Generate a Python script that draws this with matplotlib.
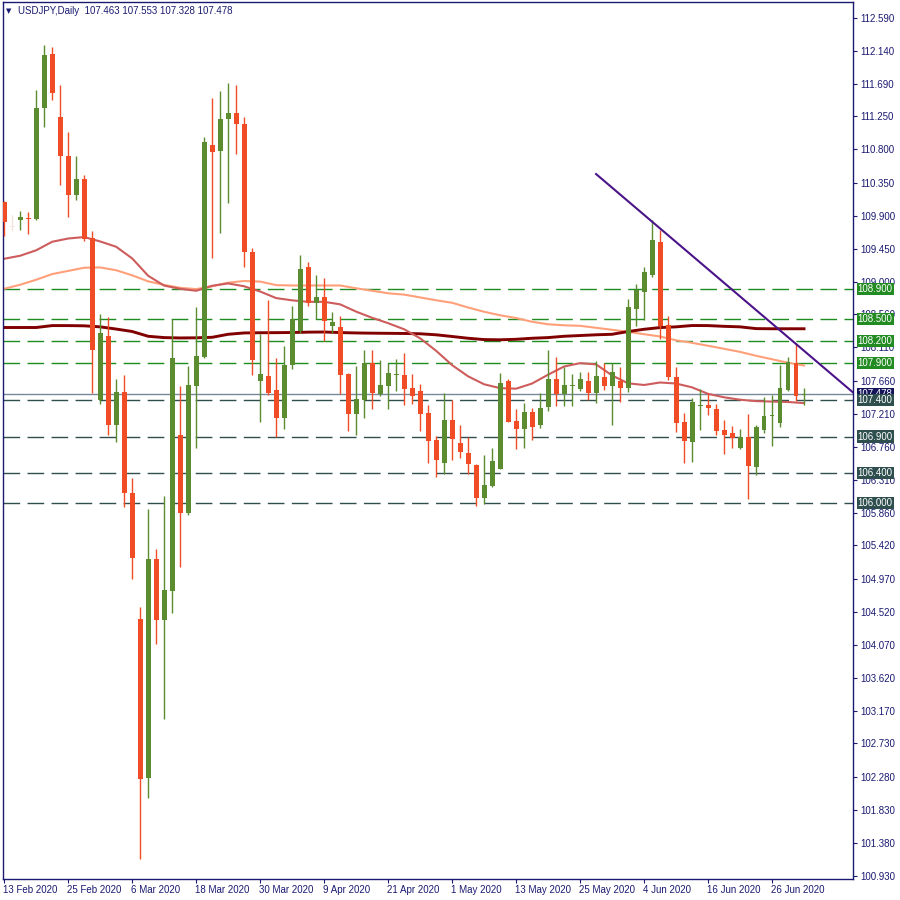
import matplotlib
matplotlib.use('Agg')
import matplotlib.pyplot as plt
import matplotlib.transforms as mtrans

plt.rcParams['font.family'] = ['Liberation Sans', 'DejaVu Sans']

# daily candles, USDJPY, 13 Feb 2020 .. 2 Jul 2020 (one per trading day)
opens = [110.09, 109.75, 109.835, 109.87, 109.858, 111.358, 112.101, 111.245, 110.705, 110.185,
         110.402, 109.596, 107.39, 108.268, 107.059, 107.507, 106.139, 104.423, 102.266, 105.238,
         104.409, 104.808, 106.923, 105.859, 107.589, 107.987, 110.864, 110.773, 111.213, 111.30,
         111.15, 109.406, 107.648, 107.725, 107.535, 107.145, 107.878, 108.327, 109.206, 108.713,
         108.80, 108.395, 108.39, 107.752, 107.21, 107.40, 107.897, 107.476, 107.589, 107.74,
         107.738, 107.562, 107.521, 107.22, 106.85, 106.547, 107.127, 106.81, 106.675, 106.515,
         106.071, 106.234, 106.465, 107.657, 107.116, 107.009, 107.237, 107.05, 107.30, 107.684,
         107.48, 107.59, 107.552, 107.661, 107.49, 107.707, 107.58, 107.661, 107.566, 108.635,
         108.87, 109.097, 109.542, 108.418, 107.707, 107.096, 106.832, 107.31, 107.33, 107.272,
         106.991, 106.946, 106.75, 106.892, 106.48, 106.991, 107.18, 107.09, 107.535, 107.897,
         107.463]
highs = [110.10, 109.91, 109.967, 109.95, 111.602, 112.223, 112.196, 111.68, 111.04, 110.705,
         110.456, 109.686, 108.567, 108.522, 107.684, 107.738, 106.339, 104.586, 105.918, 105.374,
         106.094, 108.496, 107.58, 107.86, 108.653, 110.963, 111.50, 111.598, 111.707, 111.68,
         111.245, 109.46, 108.296, 108.758, 107.97, 108.123, 108.676, 109.369, 109.274, 109.097,
         109.06, 108.59, 108.54, 107.76, 107.861, 108.078, 108.078, 107.942, 107.897, 107.95,
         108.033, 107.752, 107.616, 107.331, 106.91, 107.498, 107.399, 107.059, 106.892, 106.52,
         106.651, 106.742, 107.762, 107.684, 107.276, 107.354, 107.29, 107.49, 108.078, 107.979,
         107.843, 107.752, 107.783, 107.775, 107.929, 107.897, 107.897, 107.838, 108.771, 108.975,
         109.202, 109.835, 109.709, 108.54, 107.851, 107.218, 107.43, 107.544, 107.49, 107.344,
         107.118, 107.045, 107.00, 107.205, 107.059, 107.434, 107.467, 107.874, 107.987, 108.17,
         107.553]
lows = [109.62, 109.69, 109.709, 109.65, 109.835, 111.099, 111.466, 110.32, 109.876, 110.117,
        109.55, 107.498, 107.344, 106.914, 106.832, 105.949, 104.966, 101.161, 101.994, 104.087,
        103.064, 104.50, 105.13, 105.83, 106.739, 107.97, 109.32, 109.664, 110.072, 110.742,
        109.197, 107.738, 107.10, 107.463, 106.896, 107.009, 107.816, 108.31, 108.667, 108.496,
        108.20, 108.313, 107.48, 106.98, 106.923, 107.15, 107.276, 107.453, 107.272, 107.525,
        107.331, 107.344, 106.98, 106.547, 106.348, 106.393, 106.583, 106.615, 106.393, 105.958,
        105.985, 106.21, 106.46, 107.10, 106.729, 106.75, 106.846, 107.015, 107.253, 107.32,
        107.317, 107.308, 107.512, 107.39, 107.354, 107.535, 107.059, 107.368, 107.503, 108.408,
        108.477, 109.066, 108.224, 107.67, 106.968, 106.547, 106.56, 106.991, 107.195, 106.923,
        106.661, 106.75, 106.729, 106.053, 106.38, 106.946, 106.777, 107.036, 107.52, 107.376,
        107.328]
closes = [109.81, 109.75, 109.876, 109.86, 111.363, 112.087, 111.561, 110.705, 110.185, 110.402,
          109.582, 108.069, 108.313, 107.059, 107.507, 106.139, 105.256, 102.249, 105.238, 104.409,
          104.817, 107.97, 105.859, 107.603, 107.997, 110.90, 110.76, 111.217, 111.30, 111.14,
          109.406, 107.942, 107.752, 107.498, 107.145, 107.874, 108.50, 109.179, 108.713, 108.80,
          108.463, 108.45, 107.738, 107.21, 107.412, 107.897, 107.498, 107.603, 107.762, 107.75,
          107.552, 107.444, 107.21, 106.846, 106.583, 107.127, 106.869, 106.683, 106.529, 106.071,
          106.244, 106.57, 107.63, 107.104, 107.009, 107.237, 107.023, 107.29, 107.684, 107.484,
          107.603, 107.60, 107.684, 107.49, 107.716, 107.58, 107.775, 107.566, 108.659, 108.894,
          109.134, 109.573, 108.408, 107.702, 107.082, 106.846, 107.368, 107.33, 107.286, 106.977,
          106.923, 106.878, 106.90, 106.493, 107.036, 107.181, 107.19, 107.566, 107.919, 107.444,
          107.478]

# moving averages, read every 2nd bar
ma_bars = list(range(0, 101, 2))
ma_fast = [109.315, 109.356, 109.43, 109.546, 109.59, 109.61, 109.55, 109.478, 109.32, 109.084,
           108.95, 108.907, 108.88, 108.948, 108.98, 108.941, 108.87, 108.781, 108.75, 108.73,
           108.73, 108.696, 108.597, 108.513, 108.44, 108.357, 108.235, 108.065, 107.87, 107.718,
           107.61, 107.557, 107.55, 107.62, 107.74, 107.851, 107.897, 107.88, 107.73, 107.623,
           107.60, 107.634, 107.62, 107.568, 107.48, 107.433, 107.40, 107.381, 107.375, 107.369,
           107.354]
ma_mid = [108.907, 108.962, 109.03, 109.107, 109.15, 109.193, 109.197, 109.159, 109.09, 109.008,
          108.96, 108.92, 108.903, 108.941, 108.99, 109.013, 109.005, 108.957, 108.952, 108.952,
          108.952, 108.952, 108.914, 108.88, 108.846, 108.828, 108.79, 108.751, 108.717, 108.653,
          108.595, 108.547, 108.51, 108.459, 108.425, 108.411, 108.404, 108.377, 108.35, 108.323,
          108.29, 108.259, 108.207, 108.173, 108.133, 108.092, 108.05, 107.997, 107.95, 107.902,
          107.865]
ma_slow = [108.381, 108.381, 108.381, 108.407, 108.407, 108.404, 108.39, 108.36, 108.327, 108.262,
           108.244, 108.239, 108.241, 108.248, 108.289, 108.307, 108.31, 108.311, 108.313, 108.318,
           108.32, 108.312, 108.307, 108.304, 108.302, 108.30, 108.296, 108.282, 108.259, 108.235,
           108.217, 108.214, 108.221, 108.235, 108.244, 108.262, 108.272, 108.282, 108.289, 108.326,
           108.357, 108.38, 108.39, 108.408, 108.407, 108.397, 108.39, 108.366, 108.364, 108.364,
           108.364]

green_levels = [108.900, 108.500, 108.200, 107.900]
dark_levels = [107.400, 106.900, 106.400, 106.000]
last_price = 107.478

trend_bars = [74, 106.3]
trend_prices = [110.466, 107.483]

price_ticks = [112.590, 112.140, 111.690, 111.250, 110.800, 110.350, 109.900, 109.450, 109.000,
               108.560, 108.110, 107.660, 107.210, 106.760, 106.310, 105.860, 105.420, 104.970,
               104.520, 104.070, 103.620, 103.170, 102.730, 102.280, 101.830, 101.380, 100.930]
date_labels = ['13 Feb 2020', '25 Feb 2020', '6 Mar 2020', '18 Mar 2020', '30 Mar 2020',
               '9 Apr 2020', '21 Apr 2020', '1 May 2020', '13 May 2020', '25 May 2020',
               '4 Jun 2020', '16 Jun 2020', '26 Jun 2020']

NAVY = '#1a1a72'
BULL = '#5b8c30'
BEAR = '#f04c25'

fig = plt.figure(figsize=(9, 9), dpi=100)
ax = fig.add_axes([2.5 / 900, 21 / 900, 850.5 / 900, 877 / 900])

# reference levels
for lv in green_levels:
    ax.axhline(lv, color='#1e8c1e', lw=1.0, ls=(0, (12, 5.3)), zorder=1)
for lv in dark_levels:
    ax.axhline(lv, color='#2f4f4f', lw=1.0, ls=(0, (12, 5.3)), zorder=1)
ax.axhline(last_price, color='#778899', lw=1.0, zorder=1)

# moving averages
ax.plot(ma_bars, ma_mid, color='#ffa07a', lw=1.5, zorder=2)
ax.plot(ma_bars, ma_slow, color='#800000', lw=2.1, zorder=2)
ax.plot(ma_bars, ma_fast, color='#cd5c5c', lw=1.5, zorder=2)

# candles
n = len(opens)
xs = list(range(n))
cols = []
for o, c in zip(opens, closes):
    if c == o:
        cols.append('#f3e4dc')
    elif c > o:
        cols.append(BULL)
    else:
        cols.append(BEAR)
ax.vlines(xs, lows, highs, colors=cols, lw=1.0, zorder=3)
bottoms = [min(o, c) for o, c in zip(opens, closes)]
heights = [max(abs(c - o), 0.014) for o, c in zip(opens, closes)]
ax.bar(xs, heights, bottom=bottoms, width=0.62, color=cols, linewidth=0, zorder=4)

# trend line
ax.plot(trend_bars, trend_prices, color='#4a1488', lw=1.5, zorder=5)

ax.set_xlim(-0.21, 106.125)
ax.set_ylim(100.889, 112.803)

for s in ax.spines.values():
    s.set_color(NAVY)
    s.set_linewidth(1.0)

ax.yaxis.tick_right()
ax.set_yticks(price_ticks)
ax.set_yticklabels(['%.3f' % v for v in price_ticks])
ax.tick_params(axis='y', direction='out', length=3, width=0.8, color=NAVY,
               labelcolor=NAVY, labelsize=7, pad=2)

ax.set_xticks(list(range(0, 8 * len(date_labels), 8)))
ax.set_xticklabels(date_labels, ha='left')
ax.tick_params(axis='x', direction='out', length=3, width=0.8, color=NAVY,
               labelcolor=NAVY, labelsize=7, pad=1.5)
for lab in ax.get_xticklabels():
    lab.set_transform(lab.get_transform() + mtrans.ScaledTranslation(-1 / 100, 0, fig.dpi_scale_trans))

# price boxes on the right scale
trans = mtrans.blended_transform_factory(ax.transAxes, ax.transData)
box_x = 1.0055
ax.text(box_x, last_price, '%.3f' % last_price, transform=trans, ha='left', va='center',
        fontsize=7, color='white', zorder=6, clip_on=False,
        bbox=dict(boxstyle='square,pad=0.12', fc='#14145a', ec='none'))
for lv in green_levels:
    ax.text(box_x, lv, '%.3f' % lv, transform=trans, ha='left', va='center',
            fontsize=7, color='white', zorder=7, clip_on=False,
            bbox=dict(boxstyle='square,pad=0.12', fc='#228b22', ec='none'))
for lv in dark_levels:
    ax.text(box_x, lv, '%.3f' % lv, transform=trans, ha='left', va='center',
            fontsize=7, color='white', zorder=7, clip_on=False,
            bbox=dict(boxstyle='square,pad=0.12', fc='#2f4f4f', ec='none'))

# header
fig.text(6 / 900, 1 - 11 / 900, '\u25bc', fontsize=5, color=NAVY, va='center',
         family='DejaVu Sans')
fig.text(18 / 900, 1 - 11 / 900, 'USDJPY,Daily  %.3f %.3f %.3f %.3f' % (opens[-1], highs[-1], lows[-1], closes[-1]),
         fontsize=7, color=NAVY, va='center')

fig.savefig('out.png', dpi=100, facecolor='white')
